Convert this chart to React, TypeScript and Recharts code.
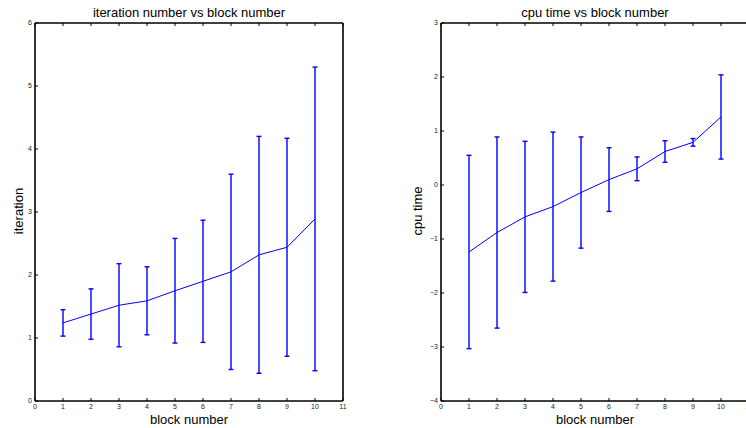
import { ComposedChart, Line, XAxis, YAxis, ErrorBar } from 'recharts'

const blocks = [1, 2, 3, 4, 5, 6, 7, 8, 9, 10]
const iterMean = [1.24, 1.38, 1.52, 1.59, 1.75, 1.9, 2.05, 2.32, 2.44, 2.89]
const iterErr = [0.21, 0.4, 0.66, 0.54, 0.83, 0.97, 1.55, 1.88, 1.73, 2.41]
const cpuMean = [-1.24, -0.88, -0.59, -0.4, -0.14, 0.1, 0.3, 0.62, 0.79, 1.26]
const cpuErr = [1.79, 1.77, 1.4, 1.38, 1.03, 0.59, 0.22, 0.2, 0.07, 0.78]

const xTicks = [0, 1, 2, 3, 4, 5, 6, 7, 8, 9, 10, 11]
const iterTicks = [0, 1, 2, 3, 4, 5, 6]
const cpuTicks = [-4, -3, -2, -1, 0, 1, 2, 3]

const iterData = blocks.map((b, i) => ({ block: b, mean: iterMean[i], err: iterErr[i] }))
const cpuData = blocks.map((b, i) => ({ block: b, mean: cpuMean[i], err: cpuErr[i] }))

const FONT = '"Liberation Sans", Arial, Helvetica, sans-serif'
const BLUE = '#0000ff'
const TL = 3 // inward tick length

const fmt = (v: number) => (v < 0 ? `\u2212${Math.abs(v)}` : `${v}`)

// matlab style ticks: drawn inward, labels outside
function BottomTick(props: any) {
  const { x, y, payload } = props
  return (
    <g>
      <line x1={x} y1={y} x2={x} y2={y - TL} stroke="#000" strokeWidth={1} />
      <text x={x} y={y + 6} dy="0.35em" textAnchor="middle" fontSize={7} fontFamily={FONT} fill="#222">
        {fmt(payload.value)}
      </text>
    </g>
  )
}

function LeftTick(props: any) {
  const { x, y, payload } = props
  return (
    <g>
      <line x1={x} y1={y} x2={x + TL} y2={y} stroke="#000" strokeWidth={1} />
      <text x={x - 3} y={y} dy="0.35em" textAnchor="end" fontSize={7} fontFamily={FONT} fill="#222">
        {fmt(payload.value)}
      </text>
    </g>
  )
}

function TopTick(props: any) {
  const { x, y } = props
  return <line x1={x} y1={y} x2={x} y2={y + TL} stroke="#000" strokeWidth={1} />
}

function RightTick(props: any) {
  const { x, y } = props
  return <line x1={x} y1={y} x2={x - TL} y2={y} stroke="#000" strokeWidth={1} />
}

const axisLine = { stroke: '#000', strokeWidth: 1.6 }

function Panel({ data, yTicks, leftW, width }: { data: any[]; yTicks: number[]; leftW: number; width: number }) {
  const yDomain: [number, number] = [yTicks[0], yTicks[yTicks.length - 1]]
  return (
    <ComposedChart width={width} height={428} data={data} margin={{ top: 0, right: 0, bottom: 0, left: 0 }}>
      <XAxis
        dataKey="block"
        type="number"
        domain={[0, 11]}
        ticks={xTicks}
        interval={0}
        height={27}
        tickSize={0}
        tickMargin={0}
        axisLine={axisLine}
        tickLine={false}
        tick={BottomTick}
      />
      <XAxis
        xAxisId="top"
        orientation="top"
        dataKey="block"
        type="number"
        domain={[0, 11]}
        ticks={xTicks}
        interval={0}
        height={23}
        tickSize={0}
        tickMargin={0}
        axisLine={axisLine}
        tickLine={false}
        tick={TopTick}
      />
      <YAxis
        type="number"
        domain={yDomain}
        ticks={yTicks}
        interval={0}
        width={leftW}
        tickSize={0}
        tickMargin={0}
        axisLine={axisLine}
        tickLine={false}
        tick={LeftTick}
      />
      <YAxis
        yAxisId="right"
        orientation="right"
        type="number"
        domain={yDomain}
        ticks={yTicks}
        interval={0}
        width={30}
        tickSize={0}
        tickMargin={0}
        axisLine={axisLine}
        tickLine={false}
        tick={RightTick}
      />
      <Line
        dataKey="mean"
        type="linear"
        stroke={BLUE}
        strokeWidth={1}
        dot={false}
        isAnimationActive={false}
      >
        <ErrorBar dataKey="err" direction="y" width={2.5} stroke={BLUE} strokeWidth={1.4} isAnimationActive={false} />
      </Line>
    </ComposedChart>
  )
}

export default function App() {
  return (
    <div
      style={{
        position: 'absolute',
        left: 0,
        top: 0,
        width: 746,
        height: 428,
        overflow: 'hidden',
        background: '#fff',
      }}
    >
      <div style={{ position: 'absolute', left: 0, top: 0 }}>
        <Panel data={iterData} yTicks={iterTicks} leftW={35} width={373} />
      </div>
      <div style={{ position: 'absolute', left: 373, top: 0 }}>
        <Panel data={cpuData} yTicks={cpuTicks} leftW={68} width={406} />
      </div>
      <svg
        width={746}
        height={428}
        style={{ position: 'absolute', left: 0, top: 0, pointerEvents: 'none' }}
        fontFamily={FONT}
        fill="#000"
      >
        <text x={189} y={16.5} textAnchor="middle" fontSize={13}>
          iteration number vs block number
        </text>
        <text x={595} y={16.5} textAnchor="middle" fontSize={13}>
          cpu time vs block number
        </text>
        <text x={189} y={424} textAnchor="middle" fontSize={13}>
          block number
        </text>
        <text x={595} y={424} textAnchor="middle" fontSize={13}>
          block number
        </text>
        <text transform="translate(23,211) rotate(-90)" textAnchor="middle" fontSize={13}>
          iteration
        </text>
        <text transform="translate(422,211) rotate(-90)" textAnchor="middle" fontSize={13}>
          cpu time
        </text>
      </svg>
    </div>
  )
}
